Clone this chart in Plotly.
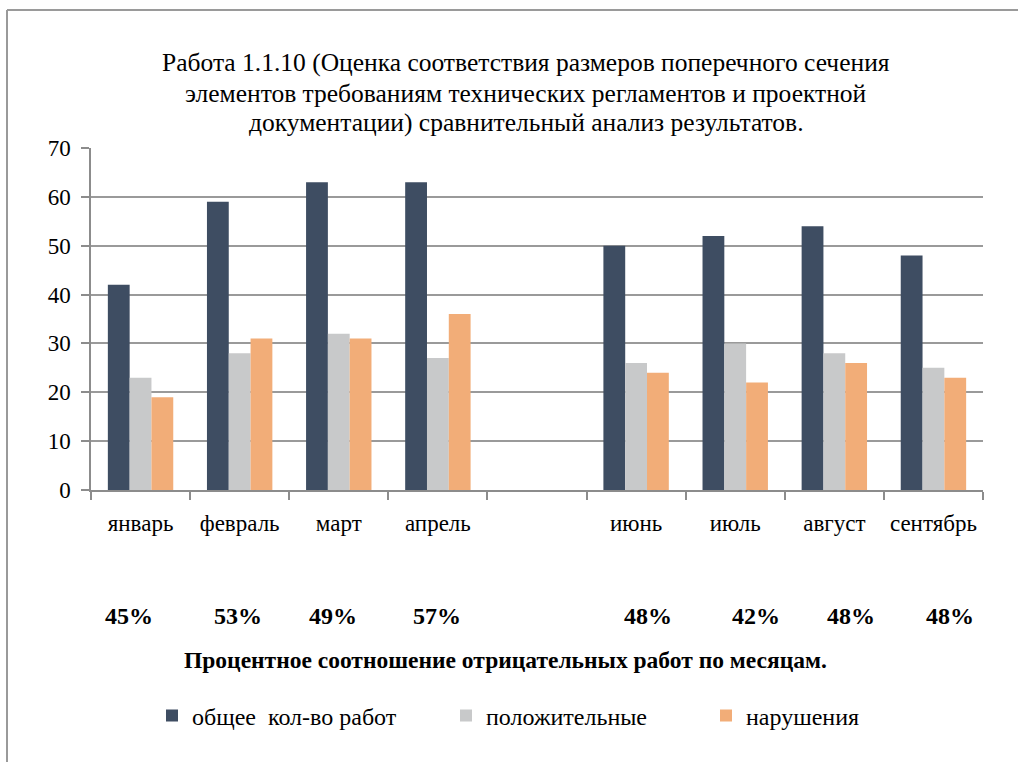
import plotly.graph_objects as go

W, H = 1018, 762

categories = ["январь", "февраль", "март", "апрель", "май", "июнь", "июль", "август", "сентябрь"]
tick_labels = ["январь", "февраль", "март", "апрель", "", "июнь", "июль", "август", "сентябрь"]
total_works = [42, 59, 63, 63, None, 50, 52, 54, 48]
positive = [23, 28, 32, 27, None, 26, 30, 28, 25]
violations = [19, 31, 31, 36, None, 24, 22, 26, 23]
percent_labels = ["45%", "53%", "49%", "57%", "", "48%", "42%", "48%", "48%"]
series_names = ["общее  кол-во работ", "положительные", "нарушения"]
y_ticks = [0, 10, 20, 30, 40, 50, 60, 70]

title_lines = [
    "Работа 1.1.10 (Оценка соответствия размеров поперечного сечения",
    "элементов требованиям технических регламентов и проектной",
    "документации) сравнительный анализ результатов.",
]
subtitle = "Процентное соотношение отрицательных работ по месяцам."

colors = ["#3E4D62", "#C8C9CA", "#F2AD78"]
pct_shift = [-12, -2, -6, -1, 0, 12, 21, 17, 17]
FONT = "'Liberation Serif', 'Times New Roman', 'DejaVu Serif', serif"


def px(x):
    return x / W


def py(y):
    return 1 - y / H


fig = go.Figure()
for i, (name, vals) in enumerate(zip(series_names, [total_works, positive, violations])):
    fig.add_trace(go.Bar(
        x=categories, y=vals, name=name, marker_color=colors[i],
        marker_line_width=0, showlegend=True,
        legend="legend" if i == 0 else f"legend{i+1}",
    ))

annotations = []
for i, line in enumerate(title_lines):
    annotations.append(dict(
        text=line, x=px(526), y=py(63 + 30 * i), xref="paper", yref="paper",
        showarrow=False, xanchor="center", yanchor="middle",
        font=dict(family=FONT, size=25.5, color="#000000"),
    ))
for cat, lab, sh in zip(categories, percent_labels, pct_shift):
    if lab:
        annotations.append(dict(
            text=f"<b>{lab}</b>", x=cat, y=py(616), xref="x", yref="paper",
            xshift=sh, showarrow=False, xanchor="center", yanchor="middle",
            font=dict(family=FONT, size=24, color="#000000"),
        ))
annotations.append(dict(
    text=f"<b>{subtitle}</b>", x=px(505), y=py(660), xref="paper", yref="paper",
    showarrow=False, xanchor="center", yanchor="middle",
    font=dict(family=FONT, size=23.5, color="#000000"),
))

legend_x = [152, 446, 706]
legend_common = dict(
    orientation="h", yanchor="middle", xanchor="left", y=py(716),
    font=dict(family=FONT, size=24, color="#000000"),
    bgcolor="rgba(0,0,0,0)", itemwidth=30, tracegroupgap=0, visible=True,
)

fig.update_layout(
    width=W, height=H,
    margin=dict(l=0, r=0, t=0, b=0, pad=0, autoexpand=False),
    paper_bgcolor="white", plot_bgcolor="white",
    showlegend=True,
    barmode="group", bargap=0.34, bargroupgap=0,
    font=dict(family=FONT, size=23, color="#000000"),
    xaxis=dict(
        domain=[px(91), px(983)], automargin=False,
        type="category", categoryorder="array", categoryarray=categories,
        tickmode="array", tickvals=categories, ticktext=tick_labels,
        tickson="boundaries", ticks="outside", ticklen=8, tickcolor="#8C8C8C",
        tickwidth=1.5, showline=True, linecolor="#8C8C8C", linewidth=1.5,
        showgrid=False, ticklabelstandoff=12,
        tickfont=dict(family=FONT, size=23, color="#000000"),
    ),
    yaxis=dict(
        domain=[py(490), py(148)], range=[0, 70], automargin=False,
        tickmode="array", tickvals=y_ticks,
        ticks="outside", ticklen=8, tickcolor="#8C8C8C", tickwidth=1.5,
        showline=True, linecolor="#8C8C8C", linewidth=1.5,
        showgrid=True, gridcolor="#9A9A9A", gridwidth=1.5, zeroline=False,
        ticklabelstandoff=6,
        tickfont=dict(family=FONT, size=23, color="#000000"),
    ),
    legend=dict(x=px(legend_x[0]), **legend_common),
    legend2=dict(x=px(legend_x[1]), **legend_common),
    legend3=dict(x=px(legend_x[2]), **legend_common),
    annotations=annotations,
    shapes=[
        dict(type="line", xref="paper", yref="paper", x0=px(7), x1=1, y0=py(10), y1=py(10),
             line=dict(color="#9A9A9A", width=2)),
        dict(type="line", xref="paper", yref="paper", x0=px(7), x1=px(7), y0=py(10), y1=0,
             line=dict(color="#9A9A9A", width=2)),
    ],
)

fig.write_html("out.html")
